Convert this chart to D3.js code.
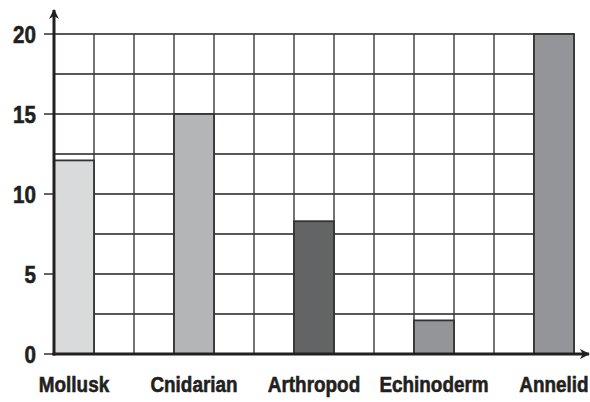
<!DOCTYPE html>
<html>
<head>
<meta charset="utf-8">
<script src="https://cdn.jsdelivr.net/npm/d3@7"></script>
<style>
  body { margin: 0; background: #fff; }
  text { font-family: "Liberation Sans", Arial, sans-serif; font-weight: bold; fill: #231f20; stroke: #231f20; stroke-width: 0.6px; }
</style>
</head>
<body>
<svg id="chart" width="590" height="402"></svg>
<script>
// data
var categories = ["Mollusk", "Cnidarian", "Arthropod", "Echinoderm", "Annelid"];
var values = [12.1, 15, 8.3, 2.1, 20];
var fills = ["#d9dadc", "#b4b5b7", "#636466", "#939598", "#939598"];
var yTicks = [0, 5, 10, 15, 20];

// layout
var padL = 54, padR = 574, padT = 34, padB = 354;
var ink = "#231f20";
var squeeze = 0.86;   // narrow the bold face to look condensed

var svg = d3.select("#chart");

var y = d3.scaleLinear().domain([0, 20]).range([padB, padT]);
var gridX = d3.scaleLinear().domain([0, 13]).range([padL, padR]);
var x = d3.scalePoint().domain(categories).range([padL + 20, padR - 20]);
var barW = gridX(1) - gridX(0);

// grid
var grid = svg.append("g");
grid.selectAll("line.h")
    .data(d3.range(1, 9).map(function(i) { return i * 2.5; }))
  .enter().append("line")
    .attr("x1", padL).attr("x2", padR)
    .attr("y1", function(d) { return y(d); })
    .attr("y2", function(d) { return y(d); })
    .attr("stroke", ink).attr("stroke-width", 1.4);
grid.selectAll("line.v")
    .data(d3.range(1, 14))
  .enter().append("line")
    .attr("x1", function(d) { return gridX(d); })
    .attr("x2", function(d) { return gridX(d); })
    .attr("y1", padT).attr("y2", padB)
    .attr("stroke", "#3a3a3a").attr("stroke-width", 1.4);

// bars
svg.selectAll("rect.bar")
    .data(values)
  .enter().append("rect")
    .attr("class", "bar")
    .attr("x", function(d, i) { return x(categories[i]) - barW / 2; })
    .attr("y", function(d) { return y(d); })
    .attr("width", barW)
    .attr("height", function(d) { return y(0) - y(d); })
    .attr("fill", function(d, i) { return fills[i]; })
    .attr("stroke", "#333")
    .attr("stroke-width", 1.8);

// y ticks and labels
svg.selectAll("line.tick")
    .data(yTicks)
  .enter().append("line")
    .attr("x1", padL - 10).attr("x2", padL)
    .attr("y1", function(d) { return y(d); })
    .attr("y2", function(d) { return y(d); })
    .attr("stroke", ink).attr("stroke-width", 1.4);
svg.selectAll("text.ylab")
    .data(yTicks)
  .enter().append("text")
    .attr("transform", function(d) { return "translate(36," + y(d) + ") scale(" + squeeze + ",1)"; })
    .attr("dy", "0.36em")
    .attr("text-anchor", "end")
    .style("font-size", "24px")
    .text(function(d) { return d; });

// axes with arrows
svg.append("defs").append("marker")
    .attr("id", "arrow")
    .attr("viewBox", "0 0 10 10")
    .attr("refX", 9).attr("refY", 5)
    .attr("markerWidth", 4).attr("markerHeight", 3.4)
    .attr("markerUnits", "strokeWidth")
    .attr("orient", "auto")
  .append("path")
    .attr("d", "M0,0 L10,5 L0,10 L3,5 Z")
    .attr("fill", ink);

svg.append("line")
    .attr("x1", padL).attr("x2", padL)
    .attr("y1", padB + 1.5).attr("y2", 10)
    .attr("stroke", ink).attr("stroke-width", 3)
    .attr("marker-end", "url(#arrow)");
svg.append("line")
    .attr("x1", padL - 1.5).attr("x2", 589)
    .attr("y1", padB).attr("y2", padB)
    .attr("stroke", ink).attr("stroke-width", 3)
    .attr("marker-end", "url(#arrow)");

// category labels
svg.selectAll("text.xlab")
    .data(categories)
  .enter().append("text")
    .attr("transform", function(d) { return "translate(" + x(d) + ",392) scale(" + squeeze + ",1)"; })
    .attr("text-anchor", "middle")
    .style("font-size", "22px")
    .text(function(d) { return d; });
</script>
</body>
</html>
